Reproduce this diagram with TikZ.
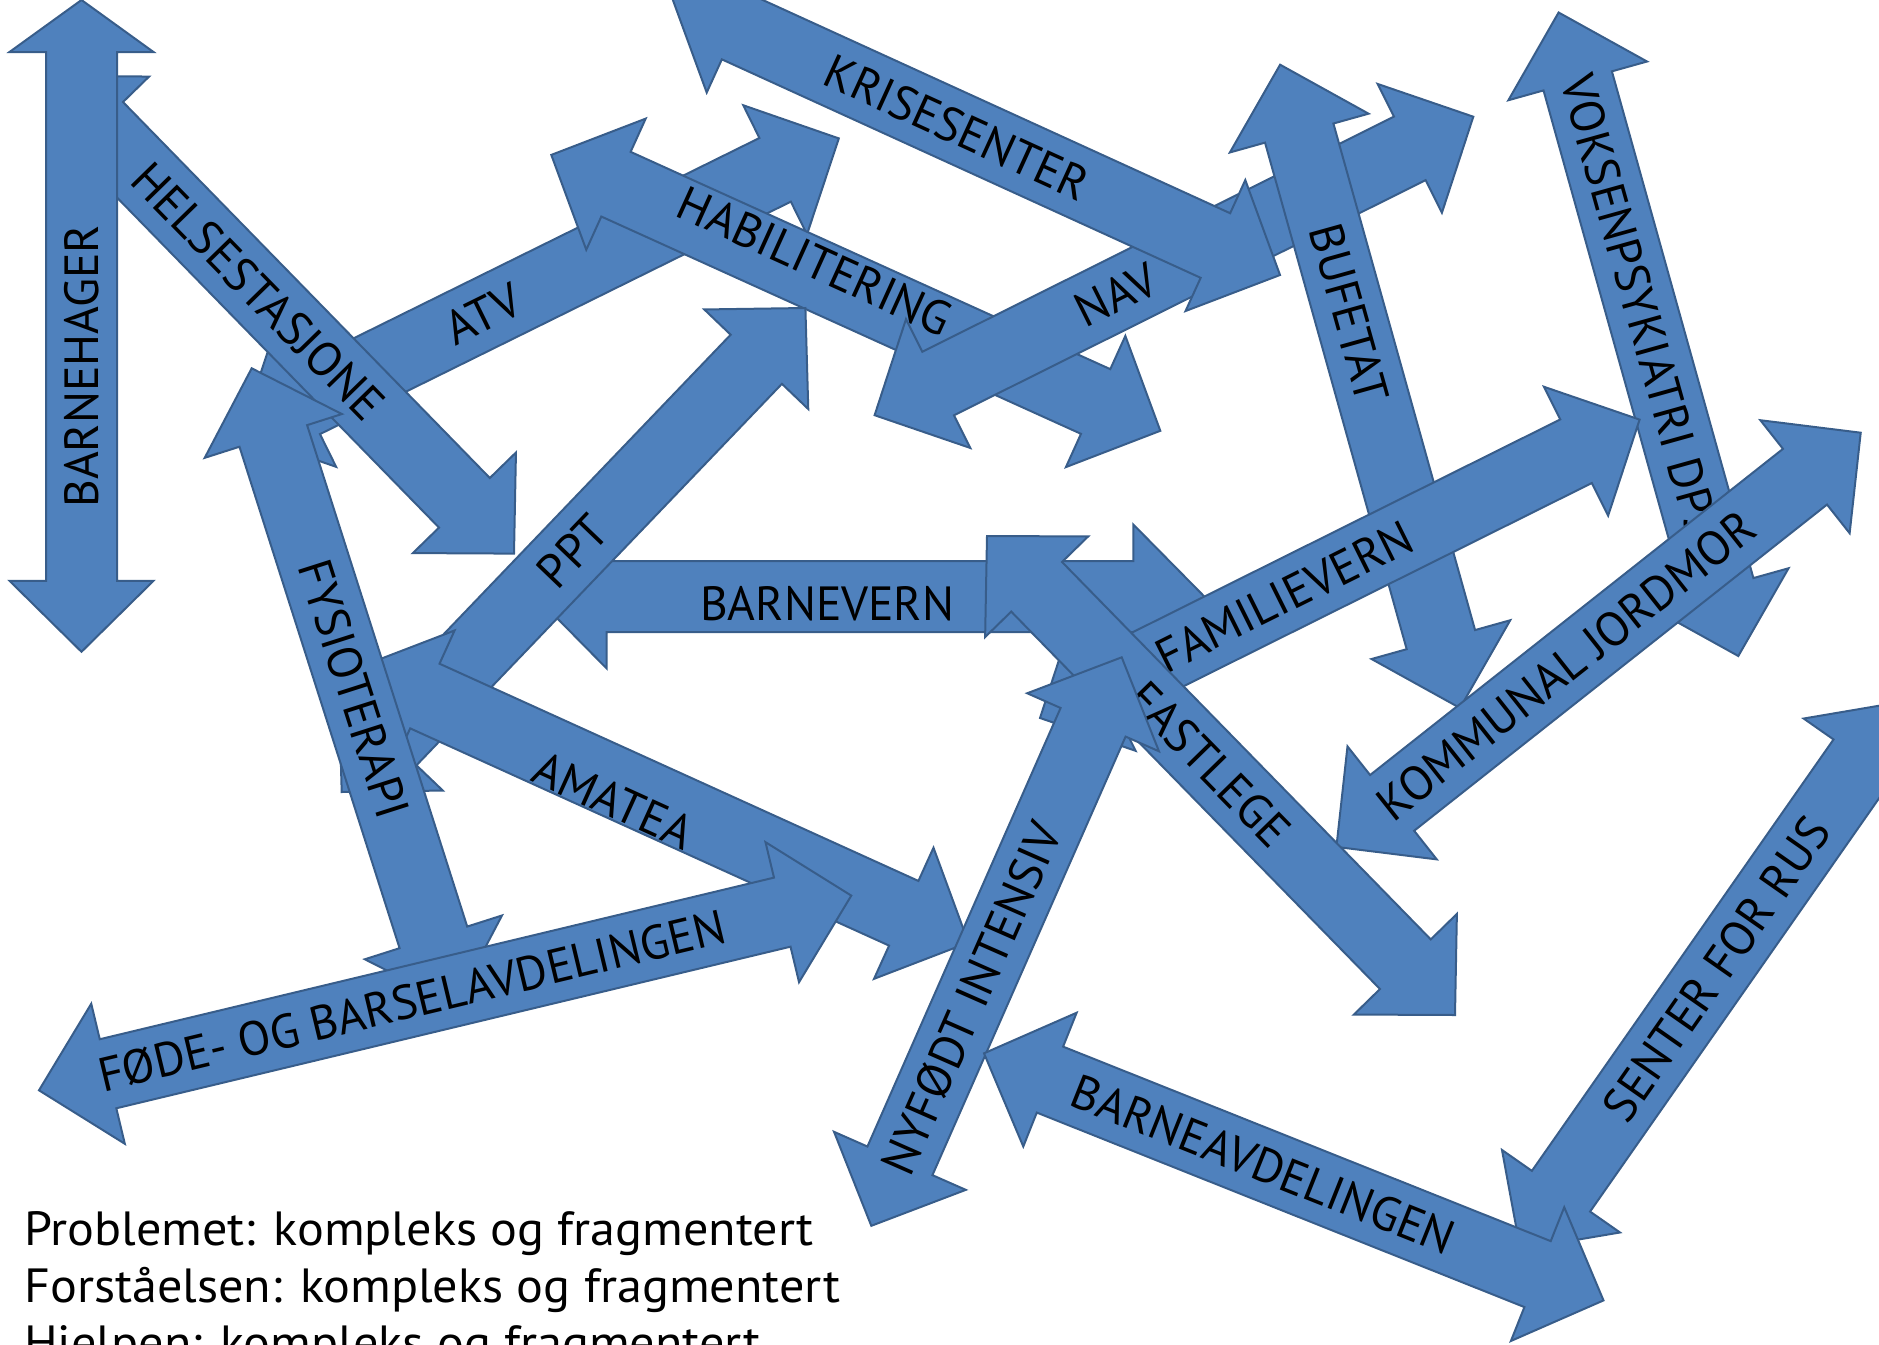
\documentclass[tikz,border=0pt]{standalone}
\usepackage{fontspec}
\setmainfont{PT Sans}[FakeStretch=1.045]
\newfontfamily\tagfont{PT Sans}[FakeStretch=0.99]
\usetikzlibrary{calc}

\definecolor{pipefill}{HTML}{4F81BD}
\definecolor{pipeline}{HTML}{385D8A}

\tikzset{
  pipe/.style={fill=pipefill, draw=pipeline, line width=2pt, line join=miter}, % the block arrows
  tag/.style={font=\tagfont\fontsize{48}{48}\selectfont, inner sep=0pt, text=black}, % text on the arrows
  note/.style={font=\fontsize{48}{56}\selectfont, inner sep=0pt, anchor=base west}, % lines at the bottom
}

\newcommand{\shafthalf}{35.5pt}
\newcommand{\headhalf}{72pt}
\newcommand{\lena}{71pt}
\newcommand{\lenb}{71pt}

% block arrow with a head at both ends: name, tip a, tip b, pos of text, extra text options, text
\newcommand{\twoway}[6]{%
  \coordinate (#1-a) at #2;
  \coordinate (#1-b) at #3;
  \coordinate (#1-ha) at ($(#1-a)!\lena!(#1-b)$);
  \coordinate (#1-hb) at ($(#1-b)!\lenb!(#1-a)$);
  \draw[pipe] (#1-a)
    -- ($(#1-ha)!\headhalf!90:(#1-b)$)
    -- ($(#1-ha)!\shafthalf!90:(#1-b)$)
    -- ($(#1-hb)!\shafthalf!-90:(#1-a)$)
    -- ($(#1-hb)!\headhalf!-90:(#1-a)$)
    -- (#1-b)
    -- ($(#1-hb)!\headhalf!90:(#1-a)$)
    -- ($(#1-hb)!\shafthalf!90:(#1-a)$)
    -- ($(#1-ha)!\shafthalf!-90:(#1-b)$)
    -- ($(#1-ha)!\headhalf!-90:(#1-b)$)
    -- cycle;
  \path (#1-a) -- (#1-b) node[tag, sloped, pos=#4, #5] (#1) {#6};
}

\begin{document}
\begin{tikzpicture}[x=1pt, y=-1pt]
  \useasboundingbox (0,0) rectangle (1879,1344);
  \clip (0,0) rectangle (1879,1344);

  % text at the bottom
  \node[note] (problem) at (24,1245) {Problemet: kompleks og fragmentert};
  \node[note] (forstaa) at (24,1302) {Forståelsen: kompleks og fragmentert};
  \node[note] (hjelp) at (24,1359) {Hjelpen: kompleks og fragmentert};

  % arrows, from the bottom layer up
  \twoway{barnevern}{(535.7,596.5)}{(1204.3,596.5)}{0.436}{yshift=-7pt}{BARNEVERN}
  \twoway{atv}{(240.6,433.7)}{(838.8,138.4)}{0.405}{}{ATV}
  \twoway{helse}{(48,76)}{(514,553.6)}{0.451}{}{HELSESTASJONE}
  \begin{scope}
    \renewcommand{\lenb}{52pt}
    \twoway{barnehage}{(81.5,651.8)}{(81.5,0)}{0.438}{}{BARNEHAGER}
  \end{scope}
  \twoway{habil}{(551.3,154.9)}{(1160.3,430.8)}{0.425}{yshift=12pt}{HABILITERING}
  \twoway{nav}{(874.6,415.2)}{(1473.3,116.7)}{0.403}{}{NAV}
  \twoway{krise}{(672,-2.4)}{(1280,275)}{0.469}{}{KRISESENTER}
  \twoway{bufetat}{(1280.1,64.7)}{(1460,708)}{0.386}{}{BUFETAT}
  \twoway{voksen}{(1558.6,12.5)}{(1738.3,656)}{0.099}{anchor=west}{VOKSENPSYKIATRI DPS}
  \twoway{familie}{(1040,718)}{(1639.6,419.6)}{0.407}{}{FAMILIEVERN}
  \twoway{jordmor}{(1336.4,846.9)}{(1860.7,432.7)}{0.438}{}{KOMMUNAL JORDMOR}
  \twoway{ppt}{(341.7,792)}{(805.4,308)}{0.498}{}{PPT}
  \twoway{amatea}{(360.2,666.7)}{(968.4,942.6)}{0.428}{yshift=-17pt}{AMATEA}
  \twoway{fysio}{(251.7,368.3)}{(455,1005)}{0.504}{}{FYSIOTERAPI}
  \twoway{fode}{(39,1090.3)}{(851.3,895.6)}{0.459}{}{FØDE- OG BARSELAVDELINGEN}
  \twoway{fastlege}{(987,536)}{(1455,1015)}{0.476}{}{FASTLEGE}
  \twoway{nyfodt}{(871.3,1225.8)}{(1121.7,657.3)}{0.400}{}{NYFØDT INTENSIV}
  \twoway{rus}{(1520.3,1249.4)}{(1903.3,701.6)}{0.512}{}{SENTER FOR RUS}
  \twoway{barneavd}{(984,1053.3)}{(1603.5,1300.4)}{0.451}{}{BARNEAVDELINGEN}
\end{tikzpicture}
\end{document}
